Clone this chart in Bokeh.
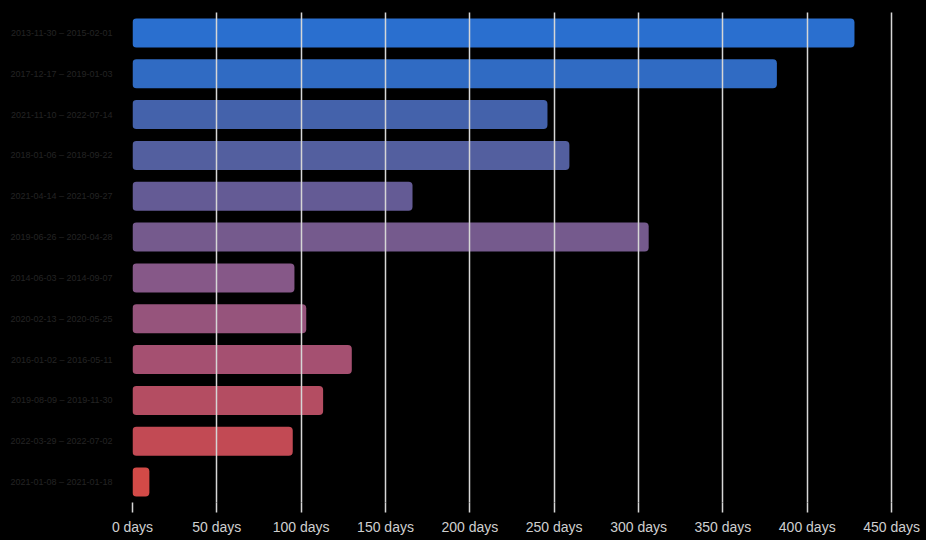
from bokeh.plotting import figure
from bokeh.models import ColumnDataSource, FactorRange, FixedTicker, PrintfTickFormatter
from bokeh.embed import file_html
from bokeh.resources import INLINE

# data
periods = [
    "2013-11-30 – 2015-02-01",
    "2017-12-17 – 2019-01-03",
    "2021-11-10 – 2022-07-14",
    "2018-01-06 – 2018-09-22",
    "2021-04-14 – 2021-09-27",
    "2019-06-26 – 2020-04-28",
    "2014-06-03 – 2014-09-07",
    "2020-02-13 – 2020-05-25",
    "2016-01-02 – 2016-05-11",
    "2019-08-09 – 2019-11-30",
    "2022-03-29 – 2022-07-02",
    "2021-01-08 – 2021-01-18",
]
durations = [428, 382, 246, 259, 166, 306, 96, 103, 130, 113, 95, 10]
x_ticks = [0, 50, 100, 150, 200, 250, 300, 350, 400, 450]

bar_colors = ["#2a6fcf", "#306bc3", "#4462ab", "#535f9f", "#645b95", "#755a8d",
              "#865888", "#96547c", "#a55071", "#b44d62", "#c24a54", "#d24a47"]

src = ColumnDataSource(dict(period=periods, days=durations, color=bar_colors))

p = figure(
    width=926, height=540,
    y_range=FactorRange(factors=list(reversed(periods)), range_padding=0),
    x_range=(0, 470.7),
    output_backend="svg", toolbar_location=None,
    background_fill_color="#000000", border_fill_color="#000000",
    min_border_left=132, min_border_right=0, min_border_top=12, min_border_bottom=38,
)
p.outline_line_color = None
p.outline_line_alpha = 0

p.hbar(y="period", right="days", left=0, height=0.71, source=src,
       fill_color="color", line_color=None, border_radius=4)

p.xgrid.ticker = FixedTicker(ticks=x_ticks)
p.xgrid.grid_line_color = "#d6d6d6"
p.xgrid.grid_line_width = 1.5
p.xgrid.level = "overlay"
p.ygrid.grid_line_color = None

xa = p.xaxis[0]
xa.ticker = FixedTicker(ticks=x_ticks)
xa.formatter = PrintfTickFormatter(format="%d days")
xa.axis_line_color = None
xa.major_tick_line_color = "#d6d6d6"
xa.major_tick_line_width = 1.5
xa.major_tick_in = 0
xa.major_tick_out = 10
xa.minor_tick_line_color = None
xa.major_label_text_color = "#cfcfcf"
xa.major_label_text_font = "Liberation Sans"
xa.major_label_text_font_size = "14px"
xa.major_label_standoff = 6

ya = p.yaxis[0]
ya.axis_line_color = None
ya.major_tick_line_color = None
ya.minor_tick_line_color = None
ya.major_label_text_color = "#242424"
ya.major_label_text_font = "Liberation Sans"
ya.major_label_text_font_size = "9px"
ya.major_label_standoff = 14

html = file_html(p, INLINE)
html = html.replace("</head>", "<style>html, body { background: #000000; margin: 0; }</style></head>", 1)
open("out.html", "w").write(html)
